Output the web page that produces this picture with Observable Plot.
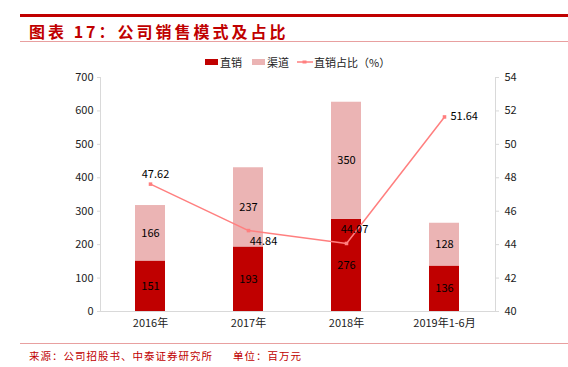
<!DOCTYPE html>
<html><head><meta charset="utf-8">
<script src="https://cdn.jsdelivr.net/npm/d3@7"></script>
<script src="https://cdn.jsdelivr.net/npm/@observablehq/plot@0.6"></script>
<style>
html,body{margin:0;padding:0;background:#fff;}
body{width:568px;height:367px;position:relative;overflow:hidden;font-family:"Noto Sans CJK SC","Noto Sans",sans-serif;}
#topline{position:absolute;left:20px;right:0;top:14px;height:3px;background:#c00000;}
#title{position:absolute;left:29px;top:19px;font-size:16px;font-weight:bold;color:#c00000;letter-spacing:3px;font-family:"Noto Sans CJK SC",serif;}
#subline{position:absolute;left:20px;right:0;top:41px;height:1px;background:#e8a0a0;}
#legend{position:absolute;left:0;top:54px;width:568px;height:16px;font-size:11px;color:#222;z-index:2;}
.sw{position:absolute;top:5px;width:13px;height:6px;}
.lt{position:absolute;top:0px;line-height:16px;}
#chart{position:absolute;left:0;top:62px;z-index:1;}
#botline{position:absolute;left:20px;right:0;top:343px;height:1px;background:#e8a0a0;}
#footer{position:absolute;left:29px;top:348px;font-size:10.5px;color:#c00000;white-space:pre;letter-spacing:1px;}
</style></head>
<body>
<div id="topline"></div>
<div id="title">图表 17：公司销售模式及占比</div>
<div id="subline"></div>
<div id="chart"></div>
<div id="legend">
  <div class="sw" style="left:205px;background:#c00000"></div><div class="lt" style="left:220px">直销</div>
  <div class="sw" style="left:252px;background:#ebb4b4"></div><div class="lt" style="left:267px">渠道</div>
  <svg style="position:absolute;left:297px;top:3px" width="16" height="10"><line x1="0" y1="5" x2="16" y2="5" stroke="#ff7f7f" stroke-width="1.5"/><rect x="5.5" y="3.5" width="4" height="3" fill="#ff7f7f"/></svg>
  <div class="lt" style="left:314px">直销占比（%）</div>
</div>
<div id="botline"></div>
<div id="footer">来源：公司招股书、中泰证券研究所      单位：百万元</div>
<script>
const categories = ["2016年","2017年","2018年","2019年1-6月"];
const direct = [151,193,276,136];
const channel = [166,237,350,128];
const ratio = [47.62,44.84,44.07,51.64];
const leftTicks = [0,100,200,300,400,500,600,700];
const rightTicks = [40,42,44,46,48,50,52,54];

const toLeft = v => (v-40)*50;
const bars = [];
categories.forEach((c,i)=>{
  bars.push({cat:c, type:"直销", value:direct[i], order:0});
  bars.push({cat:c, type:"渠道", value:channel[i], order:1});
});
const line = categories.map((c,i)=>({cat:c, r:ratio[i]}));
const labelOffsets = [{dx:5,dy:-10,a:"middle"},{dx:15,dy:11,a:"middle"},{dx:8,dy:-14,a:"middle"},{dx:6,dy:0,a:"start"}];

const font = "Noto Sans CJK SC";
const chart = Plot.plot({
  width:568, height:274,
  marginLeft:100, marginRight:73, marginTop:15, marginBottom:25,
  style:{fontFamily:font, fontSize:"11px", color:"#222", background:"transparent"},
  x:{domain:categories, paddingInner:0.69, paddingOuter:0.345, align:0.5},
  y:{domain:[0,700]},
  color:{domain:["直销","渠道"], range:["#c00000","#ebb4b4"]},
  marks:[
    Plot.barY(bars, Plot.stackY({x:"cat", y:"value", fill:"type", order:"order"})),
    Plot.text(bars, Plot.stackY({x:"cat", y:"value", z:"type", order:"order", text:d=>String(d.value), fill:"#000", fontSize:11})),
    Plot.ruleY([0], {stroke:"#d9d9d9"}),
    Plot.frame({anchor:"left", stroke:"#d9d9d9"}),
    Plot.frame({anchor:"right", stroke:"#d9d9d9"}),
    Plot.axisY({ticks:leftTicks, tickSize:3, tickPadding:4, stroke:"#d9d9d9", fill:"#222", label:null}),
    Plot.axisY(rightTicks.map(toLeft), {anchor:"right", tickSize:3, tickPadding:6, stroke:"#d9d9d9", fill:"#222", tickFormat:v=>String(v/50+40), label:null}),
    Plot.axisX({tickSize:0, tickPadding:8, fill:"#222", label:null}),
    Plot.line(line, {x:"cat", y:d=>toLeft(d.r), stroke:"#ff7f7f", strokeWidth:1.5}),
    Plot.dot(line, {x:"cat", y:d=>toLeft(d.r), symbol:"square", r:2, fill:"#ff7f7f"}),
    ...line.map((d,i)=>Plot.text([d], {x:"cat", y:dd=>toLeft(dd.r), text:dd=>dd.r.toFixed(2), dx:labelOffsets[i].dx, dy:labelOffsets[i].dy, fill:"#000", fontSize:11, textAnchor:labelOffsets[i].a}))
  ]
});
document.getElementById("chart").appendChild(chart);
</script>
</body></html>
